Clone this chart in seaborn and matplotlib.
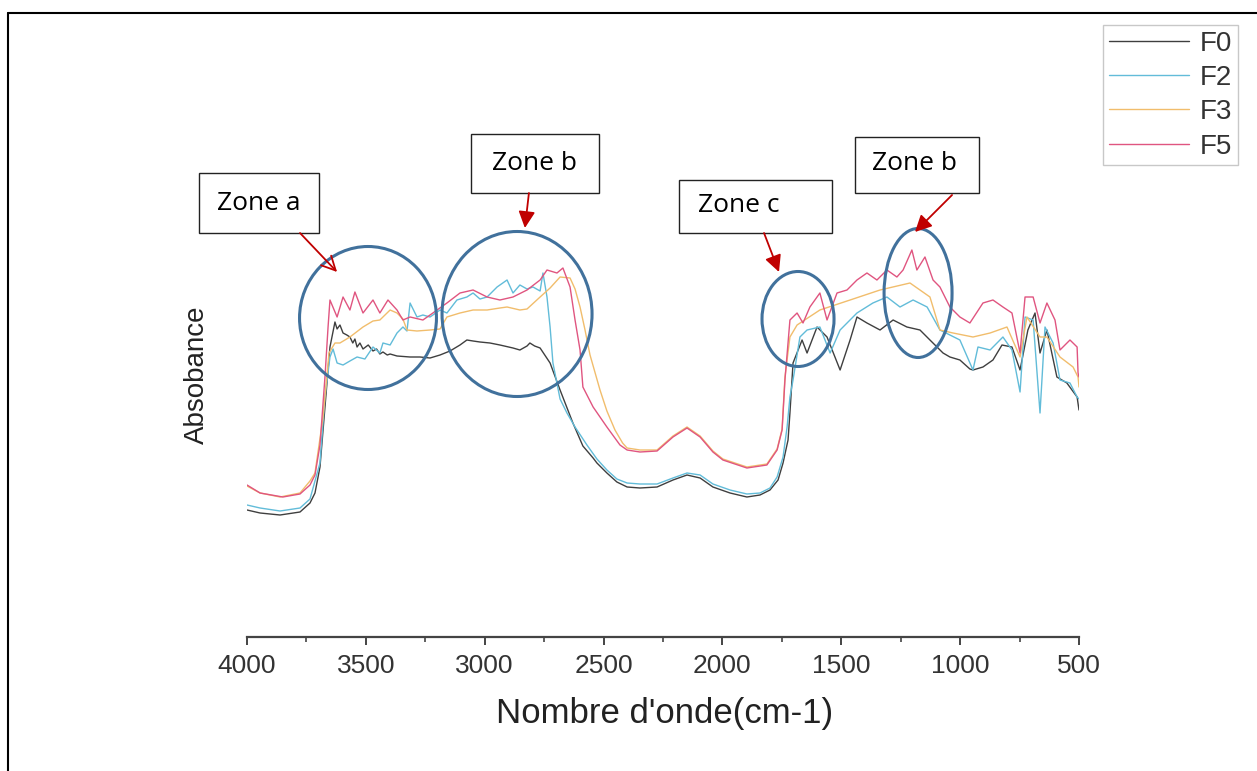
import numpy as np
import pandas as pd
import matplotlib
matplotlib.use("Agg")
import matplotlib.pyplot as plt
from matplotlib.patches import Ellipse, Rectangle, FancyArrowPatch
from matplotlib.lines import Line2D
import seaborn as sns

# ---------------------------------------------------------------------
# FTIR spectra (wavenumber cm-1, absorbance a.u.)
# ---------------------------------------------------------------------
wn_f0 = [4000, 3945, 3861, 3777, 3735, 3714, 3693, 3672, 3651, 3630, 3621, 3609,
         3596, 3580, 3567, 3555, 3546, 3537, 3525, 3512, 3490, 3470, 3455, 3441,
         3428, 3410, 3398, 3369, 3314, 3272, 3230, 3188, 3146, 3104, 3075, 3049,
         3020, 2978, 2936, 2881, 2852, 2822, 2810, 2790, 2767, 2725, 2683, 2629,
         2587, 2544, 2528, 2486, 2444, 2401, 2347, 2275, 2208, 2149, 2094, 2040,
         1968, 1897, 1842, 1800, 1766, 1745, 1724, 1716, 1703,
         1665, 1644, 1602, 1560, 1505, 1463, 1434, 1392, 1337, 1282, 1224, 1169,
         1127, 1072, 1043, 1001, 959, 946, 904, 862, 824, 782, 748, 715, 685,
         664, 635, 593, 551, 508, 500]
abs_f0 = [0.635, 0.62, 0.61, 0.625, 0.67, 0.72, 0.85, 1.15, 1.45, 1.575, 1.54, 1.56,
          1.52, 1.51, 1.50, 1.47, 1.49, 1.45, 1.47, 1.44, 1.46, 1.43, 1.44, 1.415,
          1.425, 1.41, 1.415, 1.405, 1.40, 1.40, 1.395, 1.41, 1.43, 1.46, 1.485, 1.48,
          1.475, 1.47, 1.46, 1.445, 1.435, 1.455, 1.47, 1.455, 1.445, 1.37, 1.235, 1.07,
          0.955, 0.895, 0.87, 0.82, 0.775, 0.75, 0.745, 0.75, 0.785, 0.81, 0.795, 0.75,
          0.72, 0.70, 0.71, 0.735, 0.785, 0.87, 0.985, 1.12, 1.37,
          1.485, 1.42, 1.55, 1.50, 1.335, 1.485, 1.60, 1.57, 1.535, 1.585, 1.55, 1.535,
          1.485, 1.42, 1.40, 1.385, 1.34, 1.335, 1.35, 1.385, 1.46, 1.45, 1.335, 1.535, 1.62,
          1.42, 1.535, 1.30, 1.27, 1.20, 1.135]

wn_f2 = [4000, 3945, 3861, 3777, 3735, 3693, 3672, 3651, 3638, 3621, 3596, 3567,
         3537, 3504, 3470, 3441, 3428, 3398, 3369, 3344, 3327, 3314, 3285, 3260,
         3230, 3188, 3159, 3117, 3075, 3049, 3020, 2990, 2948, 2906, 2881, 2852,
         2822, 2797, 2767, 2755, 2738, 2725, 2713, 2683, 2654, 2620, 2570, 2528,
         2486, 2444, 2401, 2347, 2275, 2208, 2149, 2094, 2040, 1968, 1897, 1842,
         1800, 1770, 1745, 1728, 1716, 1703, 1674, 1644, 1590, 1547, 1505, 1434, 1367,
         1308, 1253, 1198, 1139, 1085, 1001, 946, 925, 874, 820, 782, 748, 727,
         693, 664, 643, 609, 580, 538, 508, 500]
abs_f2 = [0.66, 0.645, 0.63, 0.645, 0.69, 0.87, 1.20, 1.40, 1.44, 1.37, 1.36, 1.38,
          1.40, 1.39, 1.45, 1.42, 1.47, 1.46, 1.52, 1.55, 1.53, 1.67, 1.60, 1.61,
          1.60, 1.635, 1.62, 1.685, 1.70, 1.72, 1.69, 1.70, 1.75, 1.785, 1.72, 1.76,
          1.74, 1.75, 1.73, 1.82, 1.70, 1.55, 1.37, 1.19, 1.12, 1.05, 0.96, 0.89,
          0.835, 0.79, 0.77, 0.765, 0.765, 0.795, 0.82, 0.81, 0.765, 0.735, 0.715, 0.72,
          0.745, 0.80, 0.90, 1.05, 1.20, 1.285, 1.50, 1.535, 1.55, 1.42, 1.535, 1.62, 1.67,
          1.70, 1.65, 1.685, 1.65, 1.535, 1.485, 1.335, 1.45, 1.435, 1.50, 1.435, 1.225, 1.60,
          1.585, 1.12, 1.55, 1.47, 1.285, 1.27, 1.20, 1.19]

wn_f3 = [4000, 3945, 3861, 3777, 3735, 3714, 3680, 3655, 3630, 3609, 3567, 3512,
         3470, 3441, 3398, 3369, 3344, 3327, 3285, 3230, 3188, 3159, 3104, 3049,
         2990, 2936, 2906, 2852, 2822, 2767, 2725, 2683, 2641, 2620, 2599, 2578,
         2557, 2515, 2486, 2452, 2420, 2401, 2347, 2275, 2208, 2149, 2094, 2040,
         1998, 1897, 1813, 1770, 1749, 1737, 1716, 1686, 1590,
         1463, 1337, 1211, 1127, 1085, 1030, 946, 874, 803, 748, 719, 664, 635,
         580, 525, 504, 500]
abs_f3 = [0.755, 0.72, 0.70, 0.72, 0.78, 0.82, 1.10, 1.42, 1.47, 1.47, 1.50, 1.55,
          1.58, 1.585, 1.635, 1.62, 1.59, 1.535, 1.53, 1.535, 1.54, 1.60, 1.62, 1.635,
          1.635, 1.645, 1.65, 1.635, 1.64, 1.70, 1.745, 1.80, 1.795, 1.74, 1.65, 1.535,
          1.41, 1.235, 1.13, 1.035, 0.97, 0.945, 0.935, 0.935, 1.005, 1.05, 1.005, 0.93,
          0.89, 0.85, 0.865, 0.94, 1.04, 1.30, 1.50, 1.56, 1.635,
          1.685, 1.735, 1.77, 1.70, 1.535, 1.52, 1.50, 1.52, 1.55, 1.40, 1.60, 1.50, 1.50,
          1.40, 1.35, 1.30, 1.25]

wn_f5 = [4000, 3945, 3849, 3777, 3735, 3714, 3693, 3672, 3659, 3651, 3621, 3596,
         3567, 3546, 3512, 3470, 3441, 3407, 3369, 3344, 3314, 3260, 3218, 3159,
         3104, 3049, 2990, 2936, 2881, 2822, 2767, 2738, 2696, 2671, 2641, 2620,
         2599, 2587, 2544, 2486, 2431, 2401, 2347, 2275, 2208, 2149, 2094, 2040,
         1998, 1897, 1813, 1770, 1749, 1737, 1716, 1686,
         1661, 1632, 1590, 1560, 1518, 1476, 1434, 1392, 1350, 1308, 1266, 1240,
         1203, 1182, 1148, 1114, 1085, 1043, 1001, 959, 904, 862, 820, 782, 748,
         727, 693, 664, 635, 601, 580, 538, 508, 504, 500]
abs_f5 = [0.76, 0.72, 0.70, 0.715, 0.76, 0.81, 0.96, 1.30, 1.55, 1.685, 1.60, 1.70,
          1.635, 1.725, 1.62, 1.685, 1.62, 1.685, 1.635, 1.585, 1.60, 1.585, 1.62, 1.67,
          1.72, 1.735, 1.70, 1.685, 1.70, 1.735, 1.785, 1.835, 1.82, 1.845, 1.75, 1.585,
          1.435, 1.25, 1.15, 1.05, 0.96, 0.935, 0.925, 0.93, 1.00, 1.045, 1.00, 0.925,
          0.885, 0.845, 0.86, 0.935, 1.035, 1.285, 1.585, 1.62,
          1.57, 1.65, 1.72, 1.585, 1.72, 1.735, 1.785, 1.82, 1.785, 1.835, 1.80, 1.835,
          1.935, 1.835, 1.90, 1.785, 1.75, 1.65, 1.60, 1.57, 1.67, 1.685, 1.65, 1.62, 1.42,
          1.70, 1.70, 1.57, 1.67, 1.585, 1.435, 1.485, 1.45, 1.32, 1.30]

samples = ["F0", "F2", "F3", "F5"]
colors = {"F0": "#3f3f3f", "F2": "#62bcd9", "F3": "#f1bd6c", "F5": "#e05580"}

# zones: label, text centre, box (x0, x1, y0, y1), arrow start/end, ellipse centre/size
zones = [
    ("Zone a", (3950, 2.17), (4202, 3697, 2.02, 2.32), (3777, 2.02), (3621, 1.825), "->",
     (3491, 1.595), 576, 0.715),
    ("Zone b", (2790, 2.365), (3058, 2519, 2.22, 2.515), (2814, 2.22), (2831, 2.045), "-|>",
     (2864, 1.615), 631, 0.825),
    ("Zone c", (1930, 2.155), (2183, 1539, 2.02, 2.285), (1825, 2.02), (1762, 1.825), "-|>",
     (1682, 1.59), 303, 0.475),
    ("Zone b", (1190, 2.365), (1442, 921, 2.22, 2.50), (1034, 2.21), (1190, 2.025), "-|>",
     (1177, 1.72), 286, 0.645),
]

frames = []
for name, wn, ab in [("F0", wn_f0, abs_f0), ("F2", wn_f2, abs_f2),
                     ("F3", wn_f3, abs_f3), ("F5", wn_f5, abs_f5)]:
    frames.append(pd.DataFrame({"wn": wn, "abs": ab, "sample": name}))
df = pd.concat(frames, ignore_index=True)

sns.set_theme(style="white")
plt.rcParams["font.family"] = ["Liberation Sans", "DejaVu Sans"]

fig = plt.figure(figsize=(12.57, 7.71), dpi=100)
ax = fig.add_axes([247 / 1257, 134 / 771, 832 / 1257, 600 / 771])

sns.lineplot(data=df, x="wn", y="abs", hue="sample", hue_order=samples,
             palette=colors, estimator=None, sort=False, linewidth=1.0,
             ax=ax, legend=False)

ax.set_xlim(4000, 500)
ax.set_ylim(0, 3.0)
ax.set_xticks(np.arange(4000, 499, -500))
ax.set_xticks(np.arange(3750, 500, -500), minor=True)
ax.set_yticks([])
for side in ["left", "right", "top"]:
    ax.spines[side].set_visible(False)
ax.spines["bottom"].set_color("#444444")
ax.spines["bottom"].set_linewidth(1.6)
ax.tick_params(axis="x", which="major", direction="out", length=6, width=1.4,
               color="#444444", labelsize=19, labelcolor="#333333", pad=6, bottom=True)
ax.tick_params(axis="x", which="minor", direction="out", length=3.5, width=1.2,
               color="#444444", bottom=True)
ax.set_xlabel("Nombre d'onde(cm-1)", fontsize=25, color="#222222")
ax.xaxis.set_label_coords(0.502, -0.10)
ax.set_ylabel("Absobance", fontsize=20, color="#222222")
ax.yaxis.set_label_coords(-0.045, 0.437)

# legend outside the axes, top right
handles = [Line2D([], [], color=colors[s], lw=1.0) for s in samples]
leg = fig.legend(handles, samples, loc="upper left",
                 bbox_to_anchor=(1103 / 1257, 1 - 25 / 771), frameon=True,
                 fancybox=False, edgecolor="#bbbbbb", fontsize=20,
                 handlelength=2.9, handletextpad=0.4, labelspacing=0.3,
                 borderpad=0.2, borderaxespad=0)
leg.get_frame().set_linewidth(1.0)
for t in leg.get_texts():
    t.set_color("#333333")

# zone annotations
for label, tpos, box, a0, a1, style, ecen, ew, eh in zones:
    x0, x1, y0, y1 = box
    ax.add_patch(Rectangle((x0, y0), x1 - x0, y1 - y0, fill=True, facecolor="white",
                           edgecolor="#222222", lw=1.0, clip_on=False, zorder=5))
    ax.text(tpos[0], tpos[1], label, ha="center", va="center", fontsize=19,
            family=["Open Sans", "DejaVu Sans"], color="black", zorder=6, clip_on=False)
    arr = FancyArrowPatch(a0, a1, arrowstyle=style + ",head_length=10,head_width=5",
                          color="#c00000", lw=1.3, clip_on=False, zorder=6,
                          shrinkA=0, shrinkB=0)
    ax.add_patch(arr)
    ax.add_patch(Ellipse(ecen, ew, eh, fill=False, edgecolor="#41719c", lw=2.2,
                         clip_on=False, zorder=4))

# page frame (left and top edges)
fig.add_artist(Line2D([8 / 1257, 8 / 1257], [0, 1 - 13 / 771], color="black", lw=1.5))
fig.add_artist(Line2D([8 / 1257, 1], [1 - 13 / 771, 1 - 13 / 771], color="black", lw=1.5))

fig.savefig("out.png", dpi=100)
